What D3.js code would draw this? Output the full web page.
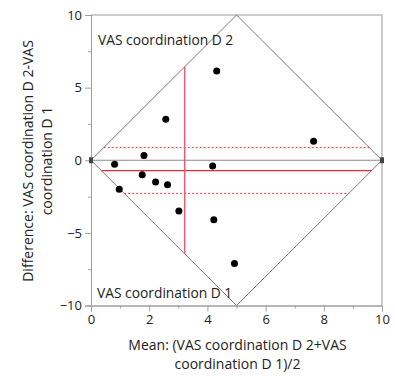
<!DOCTYPE html>
<html>
<head>
<meta charset="utf-8">
<script src="https://cdn.jsdelivr.net/npm/d3@7"></script>
<style>
  html, body { margin: 0; padding: 0; background: #fff; }
  svg { display: block; font-family: "Open Sans", "Noto Sans", sans-serif; }
</style>
</head>
<body>
<svg id="chart" width="395" height="376"></svg>
<script>
// Mean of the two ratings (x) and their difference D2 - D1 (y), one pair per subject
const meanValues = [4.32, 2.57, 1.82, 7.65, 0.81, 4.18, 1.76, 0.97, 2.22, 2.63, 3.02, 4.22, 4.93];
const diffValues = [6.14, 2.83, 0.32, 1.31, -0.28, -0.39, -0.99, -2.0, -1.49, -1.68, -3.49, -4.09, -7.1];

// Summary lines: mean difference with its confidence limits, and the mean of the means
const meanDifference = -0.71;
const diffLowerCL = -2.28;
const diffUpperCL = 0.87;
const meanOfMeans = 3.22;

const xTicks = [0, 2, 4, 6, 8, 10];
const yTicks = [-10, -5, 0, 5, 10];
const xTitleLines = ["Mean: (VAS coordination D 2+VAS", "coordination D 1)/2"];
const yTitleLines = ["Difference: VAS coordination D 2-VAS", "coordination D 1"];
const upperLabel = "VAS coordination D 2";
const lowerLabel = "VAS coordination D 1";

const svg = d3.select("#chart");
const plotLeft = 91, plotRight = 382, plotTop = 15, plotBottom = 305.5;

const x = d3.scaleLinear().domain([0, 10]).range([plotLeft, plotRight]);
const y = d3.scaleLinear().domain([-10, 10]).range([plotBottom, plotTop]);

// Plot frame (top and right edges)
svg.append("path")
  .attr("d", `M${plotLeft},${plotTop}H${plotRight}V${plotBottom}`)
  .attr("fill", "none").attr("stroke", "#bdbdbd").attr("stroke-width", 1.6);

// Axes
const tickFont = 13;
const yAxis = svg.append("g").attr("transform", `translate(${plotLeft},0)`)
  .call(d3.axisLeft(y).tickValues(yTicks).tickSize(6).tickPadding(3).tickFormat(d3.format("d")));
const yMinor = svg.append("g").attr("transform", `translate(${plotLeft},0)`)
  .call(d3.axisLeft(y).tickValues(d3.range(-7.5, 10, 5)).tickSize(3).tickFormat(""));
const xAxis = svg.append("g").attr("transform", `translate(0,${plotBottom})`)
  .call(d3.axisBottom(x).tickValues(xTicks).tickSize(6).tickPadding(3).tickFormat(d3.format("d")));
const xMinor = svg.append("g").attr("transform", `translate(0,${plotBottom})`)
  .call(d3.axisBottom(x).tickValues([1, 3, 5, 7, 9]).tickSize(3).tickFormat(""));
[yAxis, yMinor, xAxis, xMinor].forEach(g => {
  g.select(".domain").attr("stroke", "#a0a0a0");
  g.selectAll("line").attr("stroke", "#a0a0a0");
  g.selectAll("text").attr("fill", "#222").style("font-size", tickFont + "px")
    .style("font-family", "'Open Sans', sans-serif");
});

// Diamond bounding the possible (mean, difference) pairs
const diamond = [[0, 0], [5, 10], [10, 0], [5, -10]];
svg.append("path")
  .attr("d", d3.line().x(d => x(d[0])).y(d => y(d[1])).curve(d3.curveLinearClosed)(diamond))
  .attr("fill", "none").attr("stroke", "#7a7a7a").attr("stroke-width", 1);

// Zero-difference reference line with end markers
svg.append("line")
  .attr("x1", x(0)).attr("x2", x(10)).attr("y1", y(0)).attr("y2", y(0))
  .attr("stroke", "#8a8a8a").attr("stroke-width", 1.2);
[0, 10].forEach(v => {
  svg.append("rect")
    .attr("x", x(v) - 2).attr("y", y(0) - 3).attr("width", 4).attr("height", 6)
    .attr("fill", "#444");
});

// Horizontal extent of the diamond at a given difference
const halfSpan = d => Math.abs(d) / 2;

// Confidence limits (dashed) and mean difference (solid)
[diffUpperCL, diffLowerCL].forEach(d => {
  svg.append("line")
    .attr("x1", x(halfSpan(d))).attr("x2", x(10 - halfSpan(d)))
    .attr("y1", y(d)).attr("y2", y(d))
    .attr("stroke", "#e8304a").attr("stroke-width", 1).attr("stroke-dasharray", "2,2");
});
svg.append("line")
  .attr("x1", x(halfSpan(meanDifference))).attr("x2", x(10 - halfSpan(meanDifference)))
  .attr("y1", y(meanDifference)).attr("y2", y(meanDifference))
  .attr("stroke", "#e4283e").attr("stroke-width", 1.3);

// Mean of means, spanning the diamond
const vSpan = 2 * Math.min(meanOfMeans, 10 - meanOfMeans);
svg.append("line")
  .attr("x1", x(meanOfMeans)).attr("x2", x(meanOfMeans))
  .attr("y1", y(vSpan)).attr("y2", y(-vSpan))
  .attr("stroke", "#ee5c72").attr("stroke-width", 1.5);

// Points
svg.append("g").selectAll("circle")
  .data(meanValues.map((m, i) => [m, diffValues[i]]))
  .join("circle")
  .attr("cx", d => x(d[0])).attr("cy", d => y(d[1])).attr("r", 3.5)
  .attr("fill", "#000");

// Corner labels naming each rating
svg.append("text").attr("x", 98).attr("y", 45).text(upperLabel)
  .attr("fill", "#222").style("font-size", "13.8px");
svg.append("text").attr("x", 97).attr("y", 298).text(lowerLabel)
  .attr("fill", "#222").style("font-size", "13.8px");

// Axis titles
const xt = svg.append("text").attr("text-anchor", "middle")
  .attr("fill", "#222").style("font-size", "14px");
xTitleLines.forEach((s, i) => {
  xt.append("tspan").attr("x", (plotLeft + plotRight) / 2 + 1).attr("y", 350 + i * 19).text(s);
});
const yt = svg.append("text").attr("text-anchor", "middle")
  .attr("transform", "rotate(-90)").attr("fill", "#222").style("font-size", "14px");
yTitleLines.forEach((s, i) => {
  yt.append("tspan").attr("x", -161).attr("y", 33 + i * 19).text(s);
});
</script>
</body>
</html>
